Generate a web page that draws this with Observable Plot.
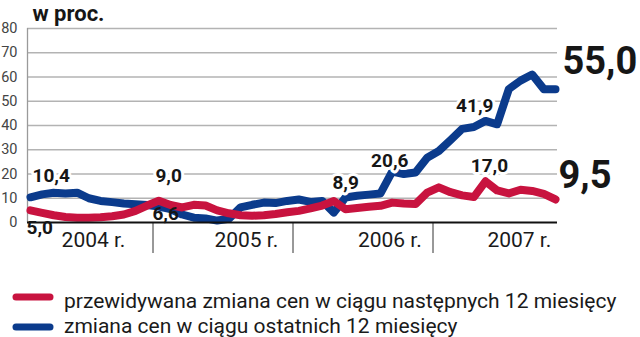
<!DOCTYPE html>
<html><head><meta charset="utf-8">
<script src="https://cdn.jsdelivr.net/npm/d3@7"></script>
<script src="https://cdn.jsdelivr.net/npm/@observablehq/plot@0.6"></script>
<style>
body{margin:0;background:#fff;width:640px;height:337px;overflow:hidden;}
#chart svg{display:block;}
#legend{display:block;}
</style></head><body><div id="chart"></div><script>
// Monthly observations, Feb 2004 – Nov 2007
const months = d3.utcMonths(new Date(Date.UTC(2004, 1, 1)), new Date(Date.UTC(2007, 11, 1)));

// zmiana cen w ciągu ostatnich 12 miesięcy (%)
const pastChange = [10.4, 11.6, 12.3, 12.0, 12.3, 10.0, 8.9, 8.4, 7.8, 7.5, 7.2, 6.6,
  5.5, 3.3, 2.0, 1.7, 0.8, 1.5, 6.2, 7.3, 8.2, 8.0, 8.9, 9.5,
  8.5, 8.9, 4.1, 10.3, 11.0, 11.5, 12.0, 21.0, 20.0, 20.6, 26.7, 29.5,
  34.0, 38.6, 39.4, 41.9, 40.5, 55.0, 58.5, 61.0, 55.0, 55.0];

// przewidywana zmiana cen w ciągu następnych 12 miesięcy (%)
const expectedChange = [5.0, 4.0, 3.0, 2.3, 2.0, 2.0, 2.2, 2.6, 3.3, 4.8, 7.0, 9.0,
  7.2, 6.2, 7.3, 7.0, 5.0, 3.8, 3.0, 2.8, 3.0, 3.5, 4.2, 4.8,
  5.8, 7.0, 8.9, 5.5, 6.0, 6.5, 6.9, 8.2, 7.8, 7.6, 12.3, 14.5,
  12.5, 11.2, 10.5, 17.0, 13.2, 12.0, 13.5, 13.0, 11.8, 9.5];

const seriesNames = ["przewidywana zmiana cen w ciągu następnych 12 miesięcy", "zmiana cen w ciągu ostatnich 12 miesięcy"];
const seriesColors = ["#c8133f", "#0b3b8c"];

const yTicks = [0, 10, 20, 30, 40, 50, 60, 70, 80];
const yearLabels = ["2004 r.", "2005 r.", "2006 r.", "2007 r."];

// value annotations
const labelText = ["10,4", "5,0", "9,0", "6,6", "8,9", "20,6", "41,9", "17,0", "55,0", "9,5"];
const labelSeries = [1, 0, 0, 1, 0, 1, 1, 0, 1, 0];
const labelMonth = [0, 0, 11, 11, 26, 33, 39, 39, 45, 45];

// ---- build tables ----
const seriesValues = [expectedChange, pastChange];
const rows = s => seriesValues[s].map((v, i) => ({i, v, date: months[i]}));
const yearBreaks = months.map((d, i) => d.getUTCMonth() === 0 ? i - 0.5 : null).filter(d => d !== null);
// year label centres (month index within each year block)
const yearLabelAt = [5.4, 18.5, 30.8, 41.9];

const labelLayout = [
  {anchor: "start", dx: 2, dy: -21.5, halo: true, size: 19},
  {anchor: "start", dx: -4, dy: 17.6, halo: false, size: 19},
  {anchor: "start", dx: -3.4, dy: -25, halo: true, size: 19},
  {anchor: "start", dx: -6.4, dy: 7.5, halo: false, size: 19},
  {anchor: "start", dx: -1.4, dy: -18, halo: true, size: 19},
  {anchor: "end", dx: -7, dy: -12, halo: true, size: 19},
  {anchor: "end", dx: 8, dy: -14.5, halo: true, size: 19},
  {anchor: "middle", dx: 4, dy: -15, halo: true, size: 19},
  {anchor: "start", dx: 7, dy: -27, halo: false, size: 38},
  {anchor: "start", dx: 3, dy: -24, halo: false, size: 38}
];

const font = "Roboto, 'Liberation Sans', sans-serif";

const labelMarks = labelText.map((t, k) => {
  const L = labelLayout[k];
  const d = [{i: labelMonth[k], v: seriesValues[labelSeries[k]][labelMonth[k]], t}];
  return Plot.text(d, {
    x: "i", y: "v", text: "t",
    textAnchor: L.anchor, dx: L.dx, dy: L.dy, lineAnchor: "middle",
    fontFamily: font, fontWeight: 700, fontSize: L.size, fill: "#161616",
    ...(L.halo ? {stroke: "white", strokeWidth: 6, paintOrder: "stroke"} : {})
  });
});

const chart = Plot.plot({
  width: 640,
  height: 262,
  marginLeft: 27,
  marginRight: 83,
  marginTop: 28,
  marginBottom: 40,
  style: {background: "white", overflow: "visible"},
  x: {type: "linear", domain: [0, months.length - 1], insetLeft: 3, insetRight: 2, axis: null},
  y: {domain: [0, 80], axis: null},
  marks: [
    Plot.ruleY(yTicks.filter(d => d > 0), {stroke: "#b3b3b3", strokeWidth: 1.3}),
    Plot.ruleX([0], {dx: -3, stroke: "#9a9a9a", strokeWidth: 1.3}),
    Plot.text(yTicks, {y: d => d, frameAnchor: "left", dx: -10, textAnchor: "end", lineAnchor: "middle",
      fontFamily: font, fontSize: 14.5, fill: "#444"}),
    Plot.text(["w proc."], {frameAnchor: "top-left", dx: 5, dy: -14.3, textAnchor: "start", lineAnchor: "middle",
      fontFamily: font, fontWeight: 700, fontSize: 22, fill: "#161616"}),
    Plot.ruleX(yearBreaks, {x: d => d, insetTop: 194, insetBottom: -31, stroke: "#333", strokeWidth: 1}),
    Plot.text(yearLabels, {x: (d, i) => yearLabelAt[i], frameAnchor: "bottom", dy: 18, lineAnchor: "middle",
      fontFamily: font, fontSize: 21, fill: "#1a1a1a"}),
    Plot.line(rows(1), {x: "i", y: "v", stroke: seriesColors[1], strokeWidth: 8, strokeLinejoin: "round", strokeLinecap: "round"}),
    Plot.line(rows(0), {x: "i", y: "v", stroke: seriesColors[0], strokeWidth: 8, strokeLinejoin: "round", strokeLinecap: "round"}),
    Plot.ruleY([0], {stroke: "#111", strokeWidth: 2}),
    ...labelMarks
  ]
});
document.getElementById("chart").append(chart);

// ---- legend ----
const ns = "http://www.w3.org/2000/svg";
const leg = document.createElementNS(ns, "svg");
leg.setAttribute("id", "legend");
leg.setAttribute("width", 640);
leg.setAttribute("height", 75);
const rowY = [35, 65];
const textBase = [46, 70.5];
seriesNames.forEach((name, k) => {
  const ln = document.createElementNS(ns, "line");
  ln.setAttribute("x1", 16); ln.setAttribute("x2", 50);
  ln.setAttribute("y1", rowY[k]); ln.setAttribute("y2", rowY[k]);
  ln.setAttribute("stroke", seriesColors[k]);
  ln.setAttribute("stroke-width", 7);
  ln.setAttribute("stroke-linecap", "round");
  leg.appendChild(ln);
  const tx = document.createElementNS(ns, "text");
  tx.setAttribute("x", 64); tx.setAttribute("y", textBase[k]);
  tx.setAttribute("font-family", font);
  tx.setAttribute("font-size", 21);
  tx.setAttribute("fill", "#1a1a1a");
  tx.textContent = name;
  leg.appendChild(tx);
});
document.body.appendChild(leg);
</script></body></html>
